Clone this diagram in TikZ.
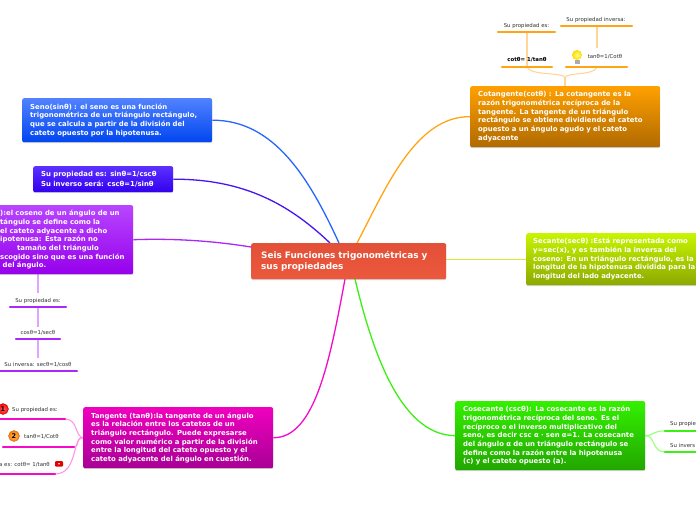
\documentclass[tikz,border=0pt]{standalone}
\usepackage{fontspec}
\setmainfont{DejaVu Sans}
\usetikzlibrary{shadows, backgrounds}
\definecolor{hubred}{RGB}{236,88,60}
\definecolor{hubtop}{RGB}{226,80,56}
\definecolor{sintop}{RGB}{82,130,255}
\definecolor{sinbot}{RGB}{0,70,240}
\definecolor{proptop}{RGB}{92,48,255}
\definecolor{propbot}{RGB}{50,0,238}
\definecolor{costop}{RGB}{184,70,255}
\definecolor{cosbot}{RGB}{150,0,235}
\definecolor{cottop}{RGB}{255,160,0}
\definecolor{cotbot}{RGB}{176,106,0}
\definecolor{sectop}{RGB}{200,245,0}
\definecolor{secbot}{RGB}{140,168,0}
\definecolor{csctop}{RGB}{52,240,0}
\definecolor{cscbot}{RGB}{34,166,0}
\definecolor{tantop}{RGB}{240,0,190}
\definecolor{tanbot}{RGB}{168,0,150}
\definecolor{sinline}{RGB}{40,100,255}
\definecolor{propline}{RGB}{70,20,245}
\definecolor{cosline}{RGB}{170,40,250}
\definecolor{cotline}{RGB}{255,165,20}
\definecolor{secline}{RGB}{205,240,50}
\definecolor{cscline}{RGB}{60,240,20}
\definecolor{tanline}{RGB}{245,10,200}
\definecolor{cotpale}{RGB}{255,214,150}
\definecolor{cospale}{RGB}{224,165,255}
\definecolor{tanpale}{RGB}{255,150,235}
\definecolor{cscpale}{RGB}{150,255,120}
\definecolor{smalltext}{RGB}{50,50,50}
\tikzset{
  block/.style={rectangle, anchor=north west, rounded corners=2pt, text=white,
    align=left, text width=174pt, inner xsep=8pt, inner ysep=0pt,
    font=\fontsize{6.9}{8.65}\selectfont\bfseries,
    drop shadow={shadow xshift=0pt, shadow yshift=-1pt, opacity=0.35}},
  hubnode/.style={block, font=\fontsize{8.9}{11}\selectfont\bfseries, inner xsep=10pt,
    text width=175pt, top color=hubtop, bottom color=hubred},
  leaf/.style={font=\fontsize{5.4}{6.5}\selectfont, text=smalltext, inner sep=0pt, yshift=-0.7pt},
  numnode/.style={circle, draw=#1!70!black, line width=0.3pt, inner color=#1!60!white, outer color=#1,
    minimum size=11pt, inner sep=0pt, font=\fontsize{6.5}{7}\selectfont\bfseries},
  rule/.style={line width=2.4pt, line cap=round},
  link/.style={line width=1.3pt},
  stem/.style={line width=1.1pt}
}
\begin{document}
\begin{tikzpicture}[x=1pt, y=-1pt]
  \useasboundingbox (0,0) rectangle (696,520);
  % main boxes
  \node[hubnode, minimum height=36pt] (hub) at (251,243)
    {Seis Funciones trigonométricas y\\sus propiedades};
  \node[block, top color=sintop, bottom color=sinbot, minimum height=44pt] (seno) at (22,98)
    {Seno(sinθ) : el seno es una función\\trigonométrica de un triángulo rectángulo,\\que se calcula a partir de la división del\\cateto opuesto por la hipotenusa.};
  \node[block, top color=proptop, bottom color=propbot, text width=124pt, minimum height=26pt,
    font=\fontsize{6.9}{9.2}\selectfont\bfseries] (sinprop) at (33,166)
    {Su propiedad es: sinθ=1/cscθ\\Su inverso será: cscθ=1/sinθ};
  \node[block, top color=costop, bottom color=cosbot, text width=153pt, minimum height=69pt, inner xsep=0pt] (coseno) at (-20,205)
    {\hspace*{20pt}):el coseno de un ángulo de un\\\hspace*{20pt}tángulo se define como la\\\hspace*{20pt}el cateto adyacente a dicho\\\hspace*{20pt}ipotenusa: Esta razón no\\\hspace*{37pt}tamaño del triángulo\\\hspace*{20pt}scogido sino que es una función\\\hspace*{22.5pt}del ángulo.};
  \node[block, top color=cottop, bottom color=cotbot, minimum height=61pt] (cotan) at (470,86)
    {Cotangente(cotθ) :  La cotangente es la\\razón trigonométrica recíproca de la\\tangente.  La tangente de un triángulo\\rectángulo se obtiene dividiendo el cateto\\opuesto a un ángulo agudo y el cateto\\adyacente};
  \node[block, top color=sectop, bottom color=secbot, inner xsep=7pt, minimum height=52pt] (secante) at (526,233)
    {Secante(secθ) :Está representada como\\y=sec(x), y es también la inversa del\\coseno: En un triángulo rectángulo, es la\\longitud de la hipotenusa dividida para la\\longitud del lado adyacente.};
  \node[block, top color=csctop, bottom color=cscbot, minimum height=69pt] (cosec) at (455,401)
    {Cosecante (cscθ): La cosecante es la razón\\trigonométrica recíproca del seno. Es el\\recíproco o el inverso multiplicativo del\\seno, es decir csc α · sen α=1. La cosecante\\del ángulo α de un triángulo rectángulo se\\define como la razón entre la hipotenusa\\(c) y el cateto opuesto (a).};
  \node[block, top color=tantop, bottom color=tanbot, minimum height=61pt] (tangente) at (83,407)
    {Tangente (tanθ):la tangente de un ángulo\\es la relación entre los catetos de un\\triángulo rectángulo. Puede expresarse\\como valor numérico a partir de la división\\entre la longitud del cateto opuesto y el\\cateto adyacente del ángulo en cuestión.};
  % small labels, cotangente side
  \node[leaf] (cotpropa) at (526.5,25) {Su propiedad es:};
  \node[leaf] (cotpropb) at (596,19) {Su propiedad inversa:};
  \node[leaf, font=\fontsize{5.4}{6.5}\selectfont\bfseries, text=black] (cotval) at (527,59) {cotθ= 1/tanθ};
  \node[leaf] (tanval) at (605,56) {tanθ=1/Cotθ};
  \coordinate (rpa) at (527,32); \coordinate (rpb) at (597,26);
  \coordinate (rva) at (527,67); \coordinate (rvb) at (597,67);
  \coordinate (cotfork) at (565,78);
  \draw[rule, cotline] (498,32) -- (555,32);
  \draw[rule, cotline] (561,26) -- (632,26);
  \draw[rule, cotline] (502,67) -- (552,67);
  \draw[rule, cotline] (566,67) -- (627,67);
  % bulb
  \shade[inner color=yellow!50, outer color=yellow!70!orange] (577,55) circle (5pt);
  \fill[gray!65] (574.5,60) rectangle (579.5,63.5);
  % small labels, coseno side
  \node[leaf] (cosa) at (38,300) {Su propiedad es:};
  \node[leaf] (cosb) at (38,332) {cosθ=1/secθ};
  \node[leaf] (cosc) at (38,364) {Su inversa: secθ=1/cosθ};
  \draw[rule, cosline] (10,307) -- (66,307);
  \draw[rule, cosline] (16,339) -- (60,339);
  \draw[rule, cosline] (-4,371) -- (77,371);
  \coordinate (cosra) at (38,307); \coordinate (cosrb) at (38,339);
  % small labels, tangente side
  \node[leaf, anchor=west] (tana) at (12,409) {Su propiedad es:};
  \node[leaf, anchor=west] (tanb) at (24,436) {tanθ=1/Cotθ};
  \node[leaf, anchor=east] (tanc) at (50,463.5) {a es: cotθ= 1/tanθ};
  \node[numnode=red] (numa) at (3,409) {1};
  \node[numnode=orange] (numb) at (14,436) {2};
  \fill[red!90!black, rounded corners=1pt] (55,461) rectangle (63,466.5);
  \fill[white] (59,463.7) circle (0.9pt);
  \coordinate (ra) at (65,419); \coordinate (rb) at (74,447); \coordinate (rc) at (55,474);
  \draw[rule, tanline] (-4,419) -- (ra);
  \draw[rule, tanline] (3,447) -- (rb);
  \draw[rule, tanline] (-4,474) -- (rc);
  % small labels, cosecante side
  \node[leaf, anchor=west] (csca) at (670,423) {Su propie};
  \node[leaf, anchor=west] (cscb) at (670,445) {Su invers};
  \coordinate (sa) at (665,431); \coordinate (sb) at (665,452);
  \draw[rule, cscline] (sa) -- (700,431);
  \draw[rule, cscline] (sb) -- (700,452);
  % connectors
  \begin{scope}[on background layer]
    \draw[link, sinline] (seno.east) .. controls (275,120) and (310,180) .. (339,243);
    \draw[link, propline] (sinprop.east) .. controls (245,179) and (290,205) .. (330,243);
    \draw[link, cosline] (coseno.east) .. controls (180,238) and (220,242) .. (hub.west |- 0,247);
    \draw[link, cotline] (cotan.west) .. controls (415,116) and (385,190) .. (357,243);
    \draw[link, secline] (secante.west) -- (secante.west -| hub.east);
    \draw[link, cscline] (cosec.west) .. controls (400,435) and (372,350) .. (355,279);
    \draw[link, tanline] (tangente.east) .. controls (315,438) and (330,360) .. (345,279);
    % child links
    \draw[stem, cotpale] (cotan.north -| cotfork) -- (cotfork);
    \draw[stem, cotpale] (cotfork) .. controls (565,72) and (530,76) .. (rva);
    \draw[stem, cotpale] (cotfork) .. controls (565,72) and (594,76) .. (rvb);
    \draw[stem, cotpale] (rpa) -- (rva);
    \draw[stem, cotpale] (rpb) -- (597,48);
    \draw[stem, cospale] (coseno.south -| cosra) -- (38,293);
    \draw[stem, cospale] (cosra) -- (38,327);
    \draw[stem, cospale] (cosrb) -- (38,358);
    \draw[stem, tanpale] (tangente.west) .. controls (75,437) and (78,419) .. (ra);
    \draw[stem, tanpale] (tangente.west) .. controls (75,437) and (80,447) .. (rb);
    \draw[stem, tanpale] (tangente.west) .. controls (72,437) and (78,474) .. (rc);
    \draw[stem, cscpale] (cosec.east) .. controls (655,435) and (652,431) .. (sa);
    \draw[stem, cscpale] (cosec.east) .. controls (655,435) and (652,452) .. (sb);
  \end{scope}
\end{tikzpicture}
\end{document}
